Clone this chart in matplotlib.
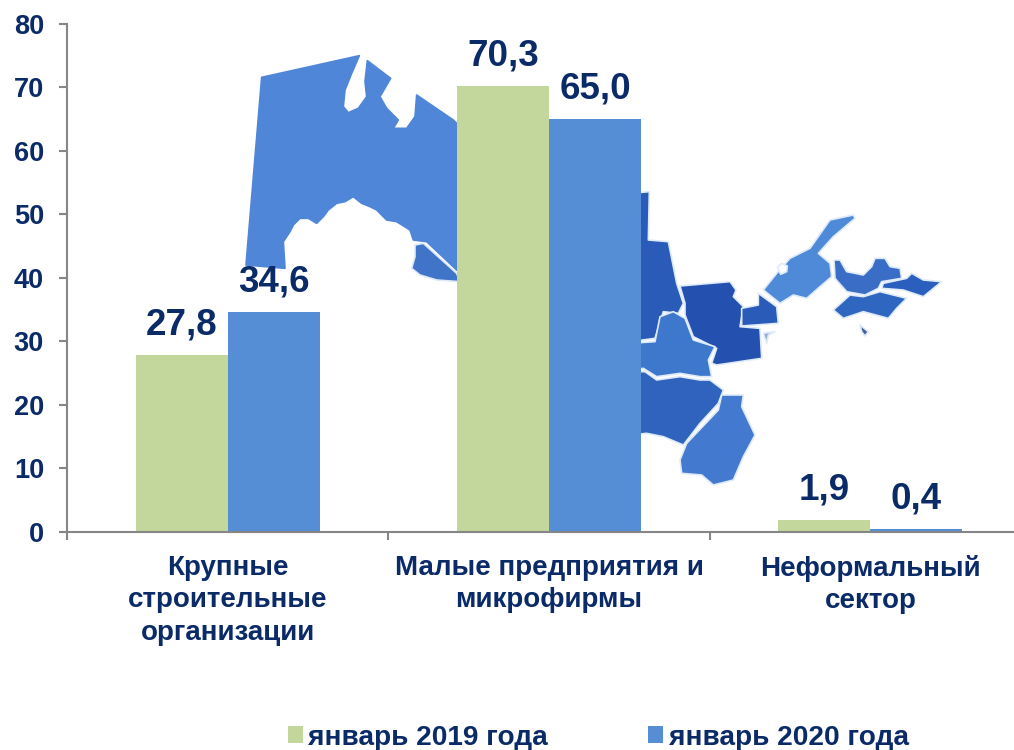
# Construction by size of organisation, with the map of Uzbekistan behind the bars

import matplotlib
matplotlib.use("Agg")
import matplotlib.pyplot as plt
import numpy as np
from matplotlib.patches import Polygon

plt.rcParams['font.family'] = ['Liberation Sans', 'DejaVu Sans']
plt.rcParams['font.weight'] = 'bold'

categories = ["Крупные\nстроительные\nорганизации", "Малые предприятия и\nмикрофирмы", "Неформальный\nсектор"]
jan_2019 = [27.8, 70.3, 1.9]
jan_2020 = [34.6, 65.0, 0.4]
series_names = ["январь 2019 года", "январь 2020 года"]
y_ticks = [0, 10, 20, 30, 40, 50, 60, 70, 80]

text_color = "#0a2a68"
axis_color = "#868686"
green = "#c3d69b"
blue = "#558ed5"

W, H = 1014, 750
fig = plt.figure(figsize=(W / 100, H / 100), dpi=100)

# background map, traced in pixels from the zoomed crops
bg = fig.add_axes([0, 0, 1, 1], zorder=0)
bg.set_xlim(0, W)
bg.set_ylim(H, 0)
bg.axis('off')


def region(points, color, x0, y0, edge="#dfeaf8"):
    pts = [(x0 + px / 3, y0 + py / 3) for px, py in points]
    bg.add_patch(Polygon(pts, closed=True, facecolor=color, edgecolor=edge, linewidth=1.2, joinstyle='round'))


west = [(95, 112), (388, 47), (365, 100), (345, 150), (340, 200), (355, 218), (385, 205), (410, 170), (405, 125),
        (412, 62), (482, 115), (450, 170), (470, 205), (505, 240), (490, 265), (530, 265), (555, 230), (560, 165),
        (670, 240), (720, 290), (720, 715), (680, 690), (590, 605), (550, 600), (540, 570), (500, 545), (470, 540),
        (440, 510), (420, 500), (395, 490), (370, 470), (345, 485), (320, 490), (295, 510), (280, 530), (260, 550),
        (235, 535), (210, 535), (190, 555), (180, 575), (160, 605), (165, 685), (48, 675)]
region(west, "#4f86d8", 230, 40, edge="#4f86d8")
region([(555, 615), (580, 610), (680, 700), (690, 725), (620, 720), (570, 705), (545, 685), (555, 650)], "#3f74c8", 230, 40)

east = [
    ([(0, 40), (58, 35), (55, 180), (115, 185), (140, 310), (160, 370), (145, 400), (100, 395), (75, 475), (0, 485)], "#2a5bb8"),
    ([(150, 318), (300, 305), (318, 330), (310, 350), (340, 380), (330, 440), (390, 445), (395, 535), (260, 555),
      (245, 550), (260, 505), (190, 470), (165, 405), (165, 370)], "#2450b0"),
    ([(0, 490), (75, 485), (90, 410), (130, 395), (165, 415), (190, 480), (255, 500), (235, 540), (245, 590),
      (210, 590), (150, 580), (80, 590), (40, 565), (0, 570)], "#3e78cc"),
    ([(0, 575), (45, 575), (80, 600), (150, 590), (210, 600), (240, 600), (280, 630), (265, 670), (210, 730),
      (160, 795), (100, 770), (50, 760), (0, 765)], "#2f63bd"),
    ([(275, 645), (340, 645), (335, 680), (375, 765), (340, 830), (310, 900), (250, 915), (215, 885), (155, 880),
      (150, 840), (170, 790), (265, 690)], "#4479d0"),
    ([(335, 385), (385, 375), (385, 340), (440, 380), (445, 430), (335, 438)], "#2a5bb8"),
    ([(400, 330), (440, 280), (480, 235), (540, 205), (600, 120), (670, 105), (675, 115), (610, 170), (565, 220),
      (600, 250), (605, 290), (570, 320), (530, 355), (490, 345), (450, 370)], "#4f8ad8"),
    ([(612, 240), (630, 240), (650, 275), (700, 285), (725, 260), (735, 235), (765, 235), (780, 260), (810, 265),
      (815, 295), (755, 305), (745, 325), (705, 345), (650, 335), (615, 295)], "#3a6dc5"),
    ([(760, 310), (830, 295), (845, 280), (880, 300), (935, 305), (880, 350), (820, 330), (755, 325)], "#2a5fbd"),
    ([(610, 390), (660, 345), (700, 350), (750, 335), (830, 355), (800, 385), (775, 415), (700, 395), (640, 415)], "#2f66c0"),
    ([(690, 435), (715, 455), (705, 468), (695, 455)], "#45618f"),
    ([(400, 460), (435, 455), (415, 465), (410, 490)], "#8ea8cf"),
]
for pts, color in east:
    region(pts, color, 630, 180)
# hole of the lake in the light region
region([(442, 262), (455, 250), (472, 258), (470, 275), (452, 283)], "white", 630, 180)

# the chart, the axes runs on past the right edge of the picture
left, right, top, bottom = 67, 1031, 24, 531.7
ax = fig.add_axes([left / W, (H - bottom) / H, (right - left) / W, (bottom - top) / H], zorder=1)
ax.patch.set_alpha(0)

x = np.arange(len(categories)) + 0.5
width = 0.2866
bars1 = ax.bar(x - width / 2, jan_2019, width, color=green, label=series_names[0])
bars2 = ax.bar(x + width / 2, jan_2020, width, color=blue, label=series_names[1])

for bars, vals in [(bars1, jan_2019), (bars2, jan_2020)]:
    labels = [f"{v:.1f}".replace('.', ',') for v in vals]
    ax.bar_label(bars, labels=labels, fontsize=26.5, color=text_color, padding=9, clip_on=False)

ax.set_xlim(0, len(categories))
ax.set_ylim(0, 80)
ax.set_yticks(y_ticks)
ax.set_xticks(np.arange(len(categories) + 1))
ax.set_xticklabels([])
ax.set_xticks(x, minor=True)
ax.set_xticklabels(categories, minor=True, fontsize=20, color=text_color, linespacing=1.34, va='top')
ax.tick_params(axis='x', which='minor', length=0, pad=16.5)
ax.tick_params(axis='x', which='major', length=5.5, width=1.5, color=axis_color)
ax.tick_params(axis='y', length=5.5, width=1.5, color=axis_color, labelsize=19.5, labelcolor=text_color, pad=11)

for s in ['top', 'right']:
    ax.spines[s].set_visible(False)
for s in ['left', 'bottom']:
    ax.spines[s].set_color(axis_color)
    ax.spines[s].set_linewidth(1.5)

ax.legend(loc='lower left', bbox_to_anchor=(288 / W, -0.001), bbox_transform=fig.transFigure, ncol=2, frameon=False,
          fontsize=20.2, labelcolor=text_color, handlelength=0.52, handleheight=0.55, handletextpad=0.2,
          columnspacing=3.58, borderaxespad=0, borderpad=0)

fig.savefig("out.png", dpi=100)
